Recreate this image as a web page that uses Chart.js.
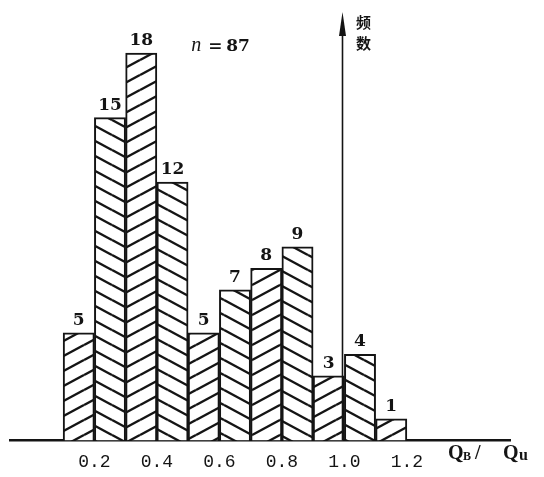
<!DOCTYPE html>
<html>
<head>
<meta charset="utf-8">
<script src="https://cdn.jsdelivr.net/npm/chart.js@4.4.1/dist/chart.umd.min.js"></script>
<style>
html, body { margin: 0; padding: 0; background: #fff; }
</style>
</head>
<body>
<canvas id="histCanvas" width="544" height="477"></canvas>
<script>
// histogram of Q_B/Q_u, bins 0.1 wide
var binStarts = [0.1, 0.2, 0.3, 0.4, 0.5, 0.6, 0.7, 0.8, 0.9, 1.0, 1.1];
var binCounts = [5, 15, 18, 12, 5, 7, 8, 9, 3, 4, 1];
var binWidth = 0.1;
var tickValues = [0.2, 0.4, 0.6, 0.8, 1.0, 1.2];
var tickLabels = ['0.2', '0.4', '0.6', '0.8', '1.0', '1.2'];
var sampleSize = 87;
var freqAxisAt = 1.0;   // the vertical "频数" arrow stands at this x value

var ink = '#141414';

function makeHatch(rising)
{
    var w = 28, h = 15;
    var c = document.createElement('canvas');
    c.width = w; c.height = h;
    var g = c.getContext('2d');
    g.fillStyle = '#fff';
    g.fillRect(0, 0, w, h);
    g.strokeStyle = ink;
    g.lineWidth = 2.4;
    for (var dx = -w; dx <= w; dx += w) {
        for (var dy = -h; dy <= h; dy += h) {
            g.beginPath();
            if (rising) { g.moveTo(dx, h + dy); g.lineTo(w + dx, dy); }
            else { g.moveTo(dx, dy); g.lineTo(w + dx, h + dy); }
            g.stroke();
        }
    }
    return g.createPattern(c, 'repeat');
}

var hatchUp = makeHatch(true);
var hatchDown = makeHatch(false);

var barPoints = binStarts.map(function (s, i) {
    return { x: +(s + binWidth / 2).toFixed(2), y: binCounts[i] };
});
var barFills = binStarts.map(function (s, i) { return i % 2 === 0 ? hatchUp : hatchDown; });

var annotations = {
    id: 'annotations',
    afterDatasetsDraw(chart)
    {
        var ctx = chart.ctx;
        var xs = chart.scales.x, ys = chart.scales.y;
        ctx.save();
        ctx.fillStyle = ink;

        // counts over bars
        ctx.font = '600 17px "DejaVu Serif"';
        ctx.textAlign = 'center';
        ctx.textBaseline = 'bottom';
        chart.getDatasetMeta(0).data.forEach(function (bar, i) {
            ctx.fillText(String(binCounts[i]), bar.x, bar.y - 4);
        });

        // frequency arrow
        var ax = Math.round(xs.getPixelForValue(freqAxisAt)) - 1.5;
        var tipY = ys.top + 2;
        ctx.strokeStyle = ink;
        ctx.lineWidth = 1.6;
        ctx.beginPath();
        ctx.moveTo(ax, ys.bottom);
        ctx.lineTo(ax, tipY + 10);
        ctx.stroke();
        ctx.beginPath();
        ctx.moveTo(ax, tipY);
        ctx.lineTo(ax - 3.5, tipY + 24);
        ctx.lineTo(ax + 3.5, tipY + 24);
        ctx.closePath();
        ctx.fill();

        ctx.font = 'bold 15px "Noto Sans CJK SC"';
        ctx.textAlign = 'center';
        ctx.textBaseline = 'middle';
        ctx.fillText('频', ax + 21, tipY + 10);
        ctx.fillText('数', ax + 21, tipY + 31);

        // n = 87
        var nx = xs.getPixelForValue(0.51);
        var ny = ys.getPixelForValue(18.1);
        ctx.textAlign = 'left';
        ctx.textBaseline = 'alphabetic';
        ctx.font = 'italic 20px "Liberation Serif"';
        ctx.fillText('n', nx, ny);
        ctx.font = '600 17px "DejaVu Serif"';
        ctx.fillText('=', nx + 17, ny);
        ctx.fillText(String(sampleSize), nx + 35, ny);

        // axis name Q_B / Q_u
        var qx = xs.right - 62;
        var qy = ys.bottom + 19;
        ctx.font = 'bold 20px "Liberation Serif"';
        ctx.fillText('Q', qx, qy);
        ctx.fillText('/', qx + 27, qy);
        ctx.fillText('Q', qx + 55, qy);
        ctx.font = 'bold 12px "Liberation Serif"';
        ctx.fillText('B', qx + 15, qy + 1);
        ctx.font = 'bold 16px "Liberation Serif"';
        ctx.fillText('u', qx + 71, qy + 1);
        ctx.restore();
    }
};

var ctx = document.getElementById('histCanvas').getContext('2d');
var chart = new Chart(ctx, {
    type: 'bar',
    data: {
        datasets: [{
            data: barPoints,
            backgroundColor: barFills,
            borderColor: ink,
            borderWidth: 2,
            borderSkipped: 'start',
            barPercentage: 1,
            categoryPercentage: 1
        }]
    },
    options: {
        responsive: false,
        devicePixelRatio: 1,
        animation: false,
        layout: { padding: { left: 10, right: 34, top: 10, bottom: 1 } },
        plugins: { legend: { display: false }, tooltip: { enabled: false } },
        scales: {
            x: {
                type: 'linear',
                offset: false,
                min: -0.07,
                max: 1.53,
                grid: { display: false, offset: false },
                border: { display: true, color: ink, width: 2.5 },
                afterBuildTicks: function (scale) {
                    scale.ticks = tickValues.map(function (v) { return { value: v }; });
                },
                ticks: {
                    padding: 3,
                    color: ink,
                    font: { family: '"Liberation Mono"', size: 18 },
                    callback: function (v) {
                        var i = tickValues.indexOf(+v.toFixed(2));
                        return i >= 0 ? tickLabels[i] : '';
                    }
                }
            },
            y: {
                display: false,
                min: 0,
                max: 20
            }
        }
    },
    plugins: [annotations]
});
</script>
</body>
</html>
